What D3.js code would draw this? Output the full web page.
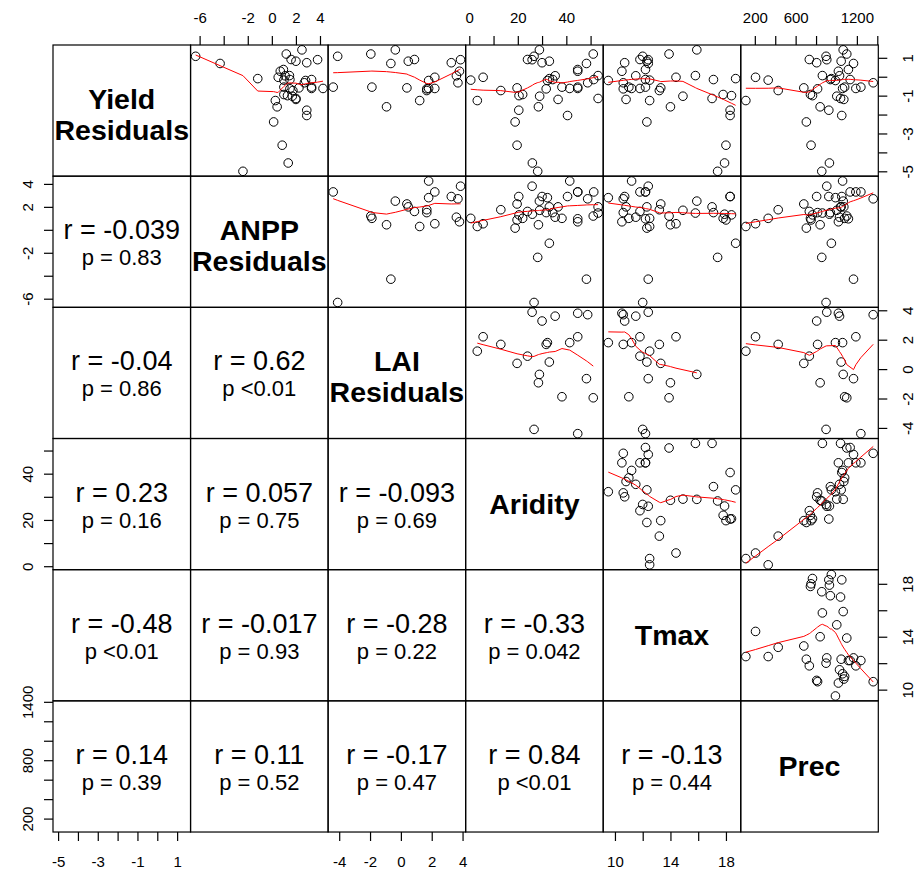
<!DOCTYPE html>
<html>
<head>
<meta charset="utf-8">
<script src="https://cdn.jsdelivr.net/npm/d3@7"></script>
<style>
  body { margin: 0; background: #fff; }
  text { font-family: "Liberation Sans", Arial, sans-serif; fill: #000; }
</style>
</head>
<body>
<div id="chart"></div>
<script>
// one value per site, same order in every array (null = missing LAI)
var prec     = [112, 207, 331, 429, 680, 705, 734, 745, 751, 765, 806, 815, 840, 856, 862, 898, 905, 925, 931, 940,
                950, 990, 1003, 1019, 1030, 1040, 1046, 1052, 1060, 1066, 1072, 1080, 1101, 1117, 1134, 1167, 1190, 1239, 1360];
var yieldRes = [-1.26, -0.03, -0.18, -0.73, -0.59, -2.39, 0.91, -0.94, -3.62, -1.0, 0.74, -0.64, -1.59, -5.0, 0.06, 1.08, 0.9, -1.77, -4.56, -0.15,
                -0.1, -0.2, -1.03, 0.29, 0.05, -1.15, 0.82, -2.05, -0.62, 1.42, -1.2, -0.55, 1.2, 0.38, -0.15, 0.7, -0.62, -0.55, -0.32];
var anppRes  = [0.29, 0.53, 1.0, 1.75, 2.25, 0.15, 1.6, 1.0, 0.86, 1.3, 2.9, 1.5, 0.44, -2.4, 1.46, -6.33, 3.8, 2.9, 1.36, 1.5,
                -1.17, 2.8, 1.7, 0.7, 1.1, 2.0, 2.0, 2.9, 4.25, 2.5, 2.0, 1.0, 1.2, 0.96, 3.3, -4.3, 3.3, 3.3, 2.7];
var laiRes   = [1.22, 2.2, null, 1.68, 0.39, null, 0.88, null, null, null, 3.27, 1.68, -0.93, null, null, -4.1, 3.87, null, null, null,
                null, 1.8, null, 3.8, 3.6, null, 0.48, null, 1.8, -0.36, null, -1.88, -1.95, null, null, -0.65, 2.2, -4.39, 3.7];
var aridity  = [3.3, 5.7, 0.6, 13, 19.7, 18.9, 24, 22, 19.7, 20.5, 30, 31.7, 28.5, 28.2, 53.1, 26.7, 25.9, 20.4, 26, 34.4,
                33, 32.2, 29, 44.7, 35.4, 53.1, 33, 40.5, 41.4, 28.9, 36.6, 38.2, 51.1, 44.7, 51.3, 48.3, 44.7, 44.7, 48.8];
var tmax     = [12.5, 14.4, 12.5, 13.2, 13.3, 12.3, 11.8, 17.8, 18.0, 18.4, 10.7, 10.6, 14.0, 17.4, 15.8, 12.0, 12.4, 18.3, 17.9, 17.1,
                18.7, 9.52, 14.9, 10.5, 11.5, 17.0, 12.3, 18.3, 11.2, 15.9, 10.8, 11.0, 13.9, 12.2, 12.2, 12.4, 11.8, 12.2, 10.6];

var varLabels = [["Yield", "Residuals"], ["ANPP", "Residuals"], ["LAI", "Residuals"], ["Aridity"], ["Tmax"], ["Prec"]];

// correlation labels, lower triangle, row by row
var rLabels = [["-0.039"],
               ["-0.04", "0.62"],
               ["0.23", "0.057", "-0.093"],
               ["-0.48", "-0.017", "-0.28", "-0.33"],
               ["0.14", "0.11", "-0.17", "0.84", "-0.13"]];
var pLabels = [["= 0.83"],
               ["= 0.86", "<0.01"],
               ["= 0.16", "= 0.75", "= 0.69"],
               ["<0.01", "= 0.93", "= 0.22", "= 0.042"],
               ["= 0.39", "= 0.52", "= 0.47", "<0.01", "= 0.44"]];

// tick values and which of them get a label (outer axes)
var ticks = [[-5, -4, -3, -2, -1, 0, 1],
             [-6, -4, -2, 0, 2, 4],
             [-4, -2, 0, 2, 4],
             [0, 10, 20, 30, 40, 50],
             [10, 12, 14, 16, 18],
             [200, 400, 600, 800, 1000, 1200, 1400]];
var colTickLabels = [[-5, -3, -1, 1], [-6, -2, 0, 2, 4], [-4, -2, 0, 2, 4], [0, 20, 40], [10, 14, 18], [200, 600, 1200]];
var rowTickLabels = [[-5, -3, -1, 1], [-6, -2, 2, 4], [-4, -2, 0, 2, 4], [0, 20, 40], [10, 14, 18], [200, 800, 1400]];

var vars = [yieldRes, anppRes, laiRes, aridity, tmax, prec];
var nv = vars.length;

var width = 916, height = 871;
var x0 = 53, y0 = 45, pw = 137.55, ph = 131.17;

var svg = d3.select("#chart").append("svg")
            .attr("width", width)
            .attr("height", height);
svg.append("rect").attr("width", width).attr("height", height).attr("fill", "#fff");

// scales like R: data range extended by 4%
var xScales = [], yScales = [];
vars.forEach(function(v, k) {
  var ext = d3.extent(v.filter(function(d) { return d != null; }));
  var pad = (ext[1] - ext[0]) * 0.04;
  var dom = [ext[0] - pad, ext[1] + pad];
  xScales.push(d3.scaleLinear().domain(dom).range([x0 + k * pw, x0 + (k + 1) * pw]));
  yScales.push(d3.scaleLinear().domain(dom).range([y0 + (k + 1) * ph, y0 + k * ph]));
});

// R's lowess (clowess port)
function lowest(x, y, n, xs, nleft, nright, w, userw, rw) {
  var range = x[n - 1] - x[0];
  var h = Math.max(xs - x[nleft], x[nright] - xs);
  var h9 = 0.999 * h, h1 = 0.001 * h;
  var a = 0, j = nleft;
  while (j < n) {
    w[j] = 0;
    var r = Math.abs(x[j] - xs);
    if (r <= h9) {
      if (r <= h1) w[j] = 1;
      else w[j] = Math.pow(1 - Math.pow(r / h, 3), 3);
      if (userw) w[j] *= rw[j];
      a += w[j];
    } else if (x[j] > xs) break;
    j++;
  }
  var nrt = j - 1;
  if (a <= 0) return null;
  for (j = nleft; j <= nrt; j++) w[j] /= a;
  if (h > 0) {
    a = 0;
    for (j = nleft; j <= nrt; j++) a += w[j] * x[j];
    var b = xs - a, c = 0;
    for (j = nleft; j <= nrt; j++) c += w[j] * (x[j] - a) * (x[j] - a);
    if (Math.sqrt(c) > 0.001 * range) {
      b /= c;
      for (j = nleft; j <= nrt; j++) w[j] = w[j] * (b * (x[j] - a) + 1);
    }
  }
  var ys = 0;
  for (j = nleft; j <= nrt; j++) ys += w[j] * y[j];
  return ys;
}

function lowess(xIn, yIn, f, nsteps) {
  var idx = d3.range(xIn.length).sort(function(a, b) { return xIn[a] - xIn[b] || a - b; });
  var x = idx.map(function(i) { return xIn[i]; });
  var y = idx.map(function(i) { return yIn[i]; });
  var n = x.length;
  var ys = new Array(n).fill(0), rw = new Array(n).fill(1), res = new Array(n).fill(0), w = new Array(n).fill(0);
  var ns = Math.max(2, Math.min(n, Math.floor(f * n + 1e-7)));
  var delta = 0.01 * (x[n - 1] - x[0]);
  for (var iter = 1; iter <= nsteps + 1; iter++) {
    var nleft = 0, nright = ns - 1, last = -1, i = 0;
    for (;;) {
      if (nright < n - 1) {
        var d1 = x[i] - x[nleft], d2 = x[nright + 1] - x[i];
        if (d1 > d2) { nleft++; nright++; continue; }
      }
      var fit = lowest(x, y, n, x[i], nleft, nright, w, iter > 1, rw);
      ys[i] = fit == null ? y[i] : fit;
      if (last < i - 1) {
        var denom = x[i] - x[last];
        for (var j = last + 1; j < i; j++) {
          var alpha = (x[j] - x[last]) / denom;
          ys[j] = alpha * ys[i] + (1 - alpha) * ys[last];
        }
      }
      last = i;
      var cut = x[last] + delta;
      for (i = last + 1; i < n; i++) {
        if (x[i] > cut) break;
        if (x[i] == x[last]) { ys[i] = ys[last]; last = i; }
      }
      i = Math.max(last + 1, i - 1);
      if (last >= n - 1) break;
    }
    for (i = 0; i < n; i++) res[i] = y[i] - ys[i];
    var sc = d3.sum(res, function(r) { return Math.abs(r); }) / n;
    if (iter > nsteps) break;
    var ar = res.map(function(r) { return Math.abs(r); }).sort(d3.ascending);
    var m1 = Math.floor(n / 2);
    var cmad = (n % 2 == 0) ? 3 * (ar[m1] + ar[m1 - 1]) : 6 * ar[m1];
    if (cmad < 1e-7 * sc) break;
    var c9 = 0.999 * cmad, c1 = 0.001 * cmad;
    for (i = 0; i < n; i++) {
      var r = Math.abs(res[i]);
      rw[i] = r <= c1 ? 1 : (r <= c9 ? Math.pow(1 - (r / cmad) * (r / cmad), 2) : 0);
    }
  }
  return x.map(function(xv, k) { return [xv, ys[k]]; });
}

var panels = svg.append("g").attr("class", "panels");

for (var row = 0; row < nv; row++) {
  for (var col = 0; col < nv; col++) {
    var px = x0 + col * pw, py = y0 + row * ph;
    var cx = px + pw / 2, cy = py + ph / 2;
    var g = panels.append("g").attr("class", "panel");

    if (row == col) {
      var lines = varLabels[row];
      lines.forEach(function(t, li) {
        var base = lines.length == 1 ? cy + 10 : (li == 0 ? cy - 2 : cy + 29.5);
        g.append("text")
         .attr("x", cx).attr("y", base)
         .attr("text-anchor", "middle")
         .style("font-size", "28.5px").style("font-weight", "bold")
         .text(t);
      });
    } else if (row > col) {
      g.append("text")
       .attr("x", cx).attr("y", cy - 2.5)
       .attr("text-anchor", "middle")
       .style("font-size", "27px")
       .text("r = " + rLabels[row - 1][col]);
      g.append("text")
       .attr("x", cx).attr("y", cy + 23.5)
       .attr("text-anchor", "middle")
       .style("font-size", "22px")
       .text("p " + pLabels[row - 1][col]);
    } else {
      var xs = vars[col], ysv = vars[row];
      var pts = [];
      xs.forEach(function(d, i) {
        if (d != null && ysv[i] != null) pts.push([d, ysv[i]]);
      });
      var xsc = xScales[col], ysc = yScales[row];
      g.selectAll("circle")
       .data(pts)
       .enter().append("circle")
       .attr("cx", function(d) { return xsc(d[0]); })
       .attr("cy", function(d) { return ysc(d[1]); })
       .attr("r", 4.3)
       .attr("fill", "none")
       .attr("stroke", "#000")
       .attr("stroke-width", 1);
      var sm = lowess(pts.map(function(d) { return d[0]; }), pts.map(function(d) { return d[1]; }), 2 / 3, 3);
      var line = d3.line()
                   .x(function(d) { return xsc(d[0]); })
                   .y(function(d) { return ysc(d[1]); });
      g.append("path")
       .datum(sm)
       .attr("d", line)
       .attr("fill", "none")
       .attr("stroke", "#ff0000")
       .attr("stroke-width", 1);
    }

    g.append("rect")
     .attr("x", px).attr("y", py)
     .attr("width", pw).attr("height", ph)
     .attr("fill", "none")
     .attr("stroke", "#000")
     .attr("stroke-width", 1.2);
  }
}

// outer axes, alternating sides like pairs()
function labelFmt(list) {
  return function(d) { return list.indexOf(d) >= 0 ? d : ""; };
}

for (var k = 0; k < nv; k++) {
  var colAxis, rowAxis;
  if (k % 2 == 0) {
    colAxis = svg.append("g")
                 .attr("class", "x_axis")
                 .attr("transform", "translate(0," + (y0 + nv * ph) + ")")
                 .call(d3.axisBottom(xScales[k]).tickValues(ticks[k]).tickSize(9)
                       .tickFormat(labelFmt(colTickLabels[k])));
    colAxis.selectAll("text").attr("y", 24.5).attr("dy", "0.71em");
  } else {
    colAxis = svg.append("g")
                 .attr("class", "x_axis")
                 .attr("transform", "translate(0," + y0 + ")")
                 .call(d3.axisTop(xScales[k]).tickValues(ticks[k]).tickSize(9)
                       .tickFormat(labelFmt(colTickLabels[k])));
    colAxis.selectAll("text").attr("y", -21.7).attr("dy", 0);
  }

  if (k % 2 == 1) {
    rowAxis = svg.append("g")
                 .attr("class", "y_axis")
                 .attr("transform", "translate(" + x0 + ",0)")
                 .call(d3.axisLeft(yScales[k]).tickValues(ticks[k]).tickSize(9)
                       .tickFormat(labelFmt(rowTickLabels[k])));
    rowAxis.selectAll("text")
           .attr("x", 0).attr("dy", 0)
           .attr("text-anchor", "middle")
           .attr("transform", "translate(-20,0) rotate(-90)");
  } else {
    rowAxis = svg.append("g")
                 .attr("class", "y_axis")
                 .attr("transform", "translate(" + (x0 + nv * pw) + ",0)")
                 .call(d3.axisRight(yScales[k]).tickValues(ticks[k]).tickSize(9)
                       .tickFormat(labelFmt(rowTickLabels[k])));
    rowAxis.selectAll("text")
           .attr("x", 0).attr("dy", 0)
           .attr("text-anchor", "middle")
           .attr("transform", "translate(35,0) rotate(-90)");
  }
}

svg.selectAll(".x_axis, .y_axis").selectAll(".domain").remove();
svg.selectAll(".x_axis, .y_axis").selectAll("line").attr("stroke", "#000").attr("stroke-width", 1.2);
svg.selectAll(".x_axis text, .y_axis text")
   .style("font-size", "15px")
   .style("font-family", "'Liberation Sans', Arial, sans-serif")
   .attr("fill", "#000");
</script>
</body>
</html>
